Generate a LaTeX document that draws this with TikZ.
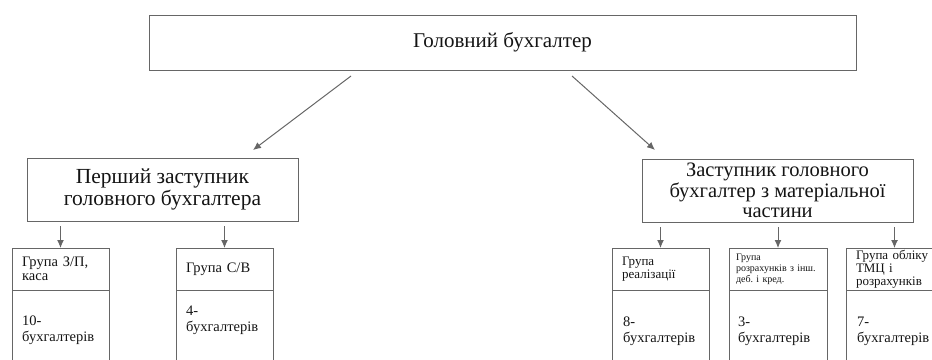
\documentclass[tikz,border=0pt]{standalone}
\usepackage{fontspec}
\setmainfont{Liberation Serif}
\usetikzlibrary{arrows.meta,calc}
\definecolor{ln}{HTML}{666666}
\definecolor{tx}{HTML}{141414}
\frenchspacing
\begin{document}
\begin{tikzpicture}[x=1pt,y=-1pt,
  box/.style={draw=ln, line width=1pt, inner sep=0pt, outer sep=0pt, text=tx},
  hdr/.style={box, minimum width=97pt, minimum height=42pt, text width=77pt, inner xsep=10pt, align=left, anchor=north west},
  bodybox/.style={box, minimum width=97pt, minimum height=110pt, anchor=north},
  btxt/.style={anchor=west, align=left, inner sep=0pt, text=tx, font=\fontsize{14.5}{16}\selectfont},
  arr/.style={draw=ln, line width=1pt, -{Latex[length=8pt,width=7pt]}}]
\useasboundingbox (0,0) rectangle (932,359);
\clip (0,0) rectangle (932,359);
\node[box, minimum width=707pt, minimum height=55pt, font=\fontsize{21}{24}\selectfont] (top) at (502.5,42.5) {Головний бухгалтер};
\node[box, minimum width=271pt, minimum height=63pt, align=center, font=\fontsize{21.5}{22}\selectfont] (d1) at (162.5,189.5) {Перший заступник\\головного бухгалтера};
\node[box, minimum width=271pt, minimum height=63pt, align=center, font=\fontsize{20.5}{20.5}\selectfont] (d2) at (777.5,190.5) {Заступник головного\\бухгалтер з матеріальної\\частини};
% headers
\node[hdr, font=\fontsize{14.5}{14}\selectfont] (h1) at (12,248) {Група З/П,\\каса};
\node[hdr, font=\fontsize{14.5}{14}\selectfont] (h2) at (176,248) {Група С/В};
\node[hdr, font=\fontsize{13}{13}\selectfont] (h3) at (612,248) {Група\\реалізації};
\node[hdr, minimum width=98pt, text width=84pt, inner xsep=7pt, font=\fontsize{10}{11}\selectfont] (h4) at (729,248) {Група\\розрахунків~з~інш.\\деб.~і~кред.};
\node[hdr, font=\fontsize{13}{13}\selectfont] (h5) at (846,248) {Група обліку\\ТМЦ і\\розрахунків};
% bodies
\node[bodybox] (b1) at (h1.south) {};
\node[bodybox] (b2) at (h2.south) {};
\node[bodybox] (b3) at (h3.south) {};
\node[bodybox, minimum width=98pt] (b4) at (h4.south) {};
\node[bodybox] (b5) at (h5.south) {};
\node[btxt] (t1) at ($(b1.north west)+(10,40)$) {10-\\бухгалтерів};
\node[btxt] (t2) at ($(b2.north west)+(10,30)$) {4-\\бухгалтерів};
\node[btxt] (t3) at ($(b3.north west)+(11,41)$) {8-\\бухгалтерів};
\node[btxt] (t4) at ($(b4.north west)+(9,41)$) {3-\\бухгалтерів};
\node[btxt] (t5) at ($(b5.north west)+(11,41)$) {7-\\бухгалтерів};
% arrows
\draw[arr] ([xshift=-151.5pt,yshift=-6pt]top.south) -- ([xshift=90.5pt,yshift=8pt]d1.north);
\draw[arr] ([xshift=69.5pt,yshift=-6pt]top.south) -- ([xshift=-122.5pt,yshift=9pt]d2.north);
\draw[arr] ($(h1.north |- d1.south)+(0,5)$) -- (h1.north);
\draw[arr] ($(h2.north |- d1.south)+(0,5)$) -- (h2.north);
\draw[arr] ($(h3.north |- d2.south)+(0,5)$) -- (h3.north);
\draw[arr] ($(h4.north |- d2.south)+(0,5)$) -- (h4.north);
\draw[arr] ($(h5.north |- d2.south)+(0,5)$) -- (h5.north);
\end{tikzpicture}
\end{document}
